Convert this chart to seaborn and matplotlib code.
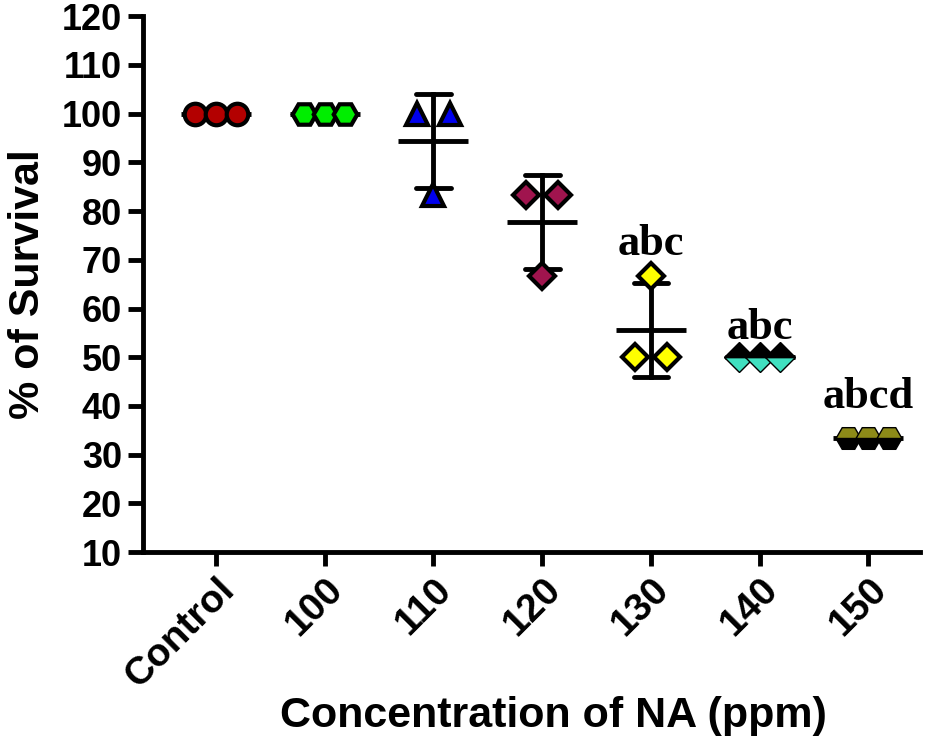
import numpy as np
import pandas as pd
import matplotlib
matplotlib.use("Agg")
import matplotlib.pyplot as plt
import seaborn as sb

# % survival, three replicates per concentration
groups = ['Control', '100', '110', '120', '130', '140', '150']
rep1 = [100.0, 100.0, 100.0, 83.33, 66.67, 50.0, 33.33]
rep2 = [100.0, 100.0, 100.0, 83.33, 50.0, 50.0, 33.33]
rep3 = [100.0, 100.0, 83.33, 66.67, 50.0, 50.0, 33.33]
letters = ['', '', '', '', 'abc', 'abc', 'abcd']
letter_y = [None, None, None, None, 71.0, 53.8, 39.6]

markers = ['o', 'H', '^', 'D', 'D', 'D', 'H']
faces = ['#B30000', '#00EE00', '#0000EE', '#A0144E', '#FFFF00', '#40E0C0', '#8C8A18']
alts = [None, None, None, None, None, 'black', 'black']
fills = ['full', 'full', 'full', 'full', 'full', 'bottom', 'top']
sizes = [15.5, 17, 16.5, 13.5, 13.5, 15, 18]
edges = [3.0, 3.0, 3.0, 3.0, 3.0, 1.0, 1.0]

df = pd.DataFrame({'group': groups * 3, 'survival': rep1 + rep2 + rep3})

sb.set_theme(style="ticks")
plt.rcParams['font.family'] = ['Liberation Sans', 'DejaVu Sans']
plt.rcParams['font.weight'] = 'bold'
for k in ['text.color', 'axes.labelcolor', 'xtick.color', 'ytick.color', 'axes.edgecolor']:
    plt.rcParams[k] = 'black'

fig = plt.figure(figsize=(9.5, 7.4), dpi=100)
ax = fig.add_axes([0.1505, 0.254, 0.8175, 0.724])

# mean +/- SD
sb.pointplot(ax=ax, data=df, x='group', y='survival', order=groups,
             errorbar='sd', capsize=0.32, color='black', linestyle='none',
             marker='_', markersize=51, markeredgewidth=3.5,
             err_kws={'linewidth': 3.5})

# replicate points, equal values spread sideways
spread = {1: [0.0], 2: [-0.15, 0.15], 3: [-0.19, 0.0, 0.19]}
for i, g in enumerate(groups):
    vals = df.loc[df['group'] == g, 'survival'].to_numpy()
    for v in np.unique(vals):
        n = int((vals == v).sum())
        for off in spread[n]:
            kw = dict(marker=markers[i], markersize=sizes[i], markerfacecolor=faces[i],
                      markeredgecolor='black', markeredgewidth=edges[i],
                      fillstyle=fills[i], linestyle='none', zorder=5)
            if alts[i] is not None:
                kw['markerfacecoloralt'] = alts[i]
            ax.plot(i + off, v, **kw)
    if letters[i]:
        ax.text(i, letter_y[i], letters[i], ha='center', va='baseline',
                fontsize=32, fontweight='bold', family=['Liberation Serif', 'DejaVu Serif'])

ax.set_xlim(-0.67, 6.47)
ax.set_ylim(10, 120)
ax.set_yticks(np.arange(10, 121, 10))
ax.set_xlabel('Concentration of NA (ppm)', fontsize=31, fontweight='bold', labelpad=1)
ax.xaxis.label.set_x(0.528)
ax.set_ylabel('% of Survival', fontsize=31, fontweight='bold', labelpad=10)
for s in ['top', 'right']:
    ax.spines[s].set_visible(False)
for s in ['left', 'bottom']:
    ax.spines[s].set_linewidth(3.5)
ax.tick_params(axis='y', width=3.5, length=10.5, labelsize=26, pad=4.5)
ax.tick_params(axis='x', width=3.5, length=10, labelsize=28, pad=4)
plt.setp(ax.get_xticklabels(), rotation=45, ha='right', rotation_mode='anchor', fontweight='bold')
plt.setp(ax.get_yticklabels(), fontweight='bold')

fig.savefig('out.png', dpi=100)
